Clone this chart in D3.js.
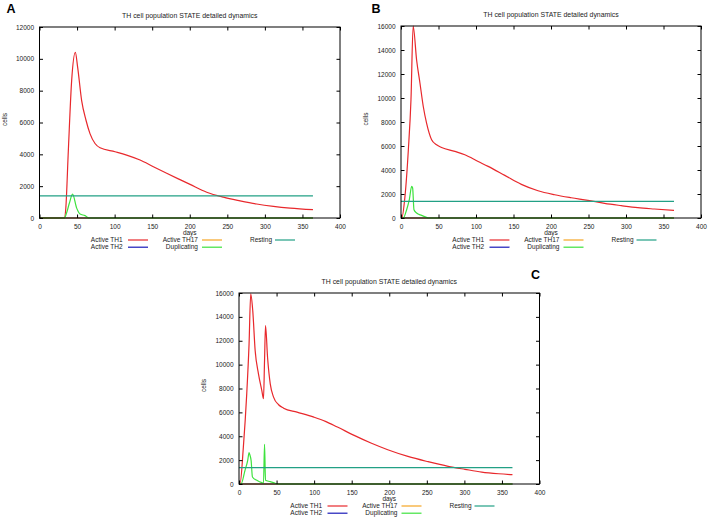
<!DOCTYPE html>
<html><head><meta charset="utf-8">
<script src="https://cdn.jsdelivr.net/npm/d3@7"></script>
<style>body{margin:0;background:#fff}svg{display:block}text{font-family:"Liberation Sans",Arial,sans-serif}</style>
</head><body>
<svg id="c" width="710" height="518"></svg>
<script>
// ---- data: [day, cells] ----
const xTicks = [0, 50, 100, 150, 200, 250, 300, 350, 400];
const yTicksA = [0, 2000, 4000, 6000, 8000, 10000, 12000];
const yTicksBC = [0, 2000, 4000, 6000, 8000, 10000, 12000, 14000, 16000];
const legendNames = ["Active TH1", "Active TH2", "Active TH17", "Duplicating", "Resting"];

const th1A = [[0,0],[33,0],[35,600],[38.4,4260],[42.8,8630],[47.7,10400],[50.8,9460],[56.1,7380],[61.9,6140],[67.2,5300],[73.9,4680],[80.6,4410],[100.6,4160],[116,3950],[133.8,3640],[151.6,3220],[169.3,2810],[187,2410],[200.4,2110],[222.6,1620],[244.8,1310],[267,1080],[289,880],[311.4,730],[333.6,620],[364,520]];
const dupA = [[0,0],[33,0],[36,310],[39.8,940],[44,1500],[49.5,620],[54,250],[60.6,150],[66,0],[364,0]];
const restA = [[0,1390],[364,1390]];
const zeroA = [[0,0],[364,0]];

const th1B = [[0,0],[1,0],[5.3,1800],[9.8,5690],[13.3,9850],[16.2,16000],[20.8,13170],[25.3,11230],[29.7,9290],[34.1,7900],[40.8,6520],[47.4,6100],[54.1,5880],[71.8,5550],[85.1,5270],[102.9,4710],[116.2,4300],[138.4,3550],[160.5,2800],[182.7,2270],[204.9,1940],[227,1690],[249.2,1470],[271.4,1220],[293.6,1030],[315.7,860],[337.9,750],[364,640]];
const dupB = [[0,0],[3,0],[7.5,690],[11.1,1530],[14.2,2630],[15.5,2500],[17.3,690],[20.8,420],[27.5,220],[34,55],[36.4,0],[364,0]];
const restB = [[0,1390],[364,1390]];
const zeroB = [[0,0],[364,0]];

const th1C = [[0,0],[1.3,0],[5.8,3090],[10.3,7550],[13.4,11740],[15.6,15920],[18.3,14520],[21.5,11180],[25.9,9230],[30.4,7830],[32.6,7140],[34,10340],[35.3,13270],[38,10620],[41.6,8390],[46,7280],[52.7,6640],[59.4,6350],[77.3,6020],[99.7,5600],[115,5250],[131,4770],[153.3,4070],[175.6,3430],[198,2870],[224.8,2310],[251.6,1870],[278.4,1480],[300.8,1230],[323.1,1000],[345.5,860],[364,780]];
const dupC = [[0,0],[2.7,0],[8,1140],[11.6,1980],[13.4,2620],[14.7,2400],[16.1,1980],[17.9,590],[23.7,310],[30.4,110],[32.6,80],[34,3320],[35.3,310],[41.6,200],[48.3,60],[50.5,0],[364,0]];
const restC = [[0,1370],[364,1370]];
const zeroC = [[0,0],[364,0]];

const colors = {th1:"#e8282c", th2:"#1a1ab8", th17:"#f5a623", dup:"#3ee23e", rest:"#22a085"};

const svg = d3.select("#c");

function panel(opt){
  const {L,R,T,B,yMax,yTicks,th1,dup,rest,zero,letter,letterX,letterY} = opt;
  const x = d3.scaleLinear().domain([0,400]).range([L,R]);
  const y = d3.scaleLinear().domain([0,yMax]).range([B,T]);
  const g = svg.append("g");
  const line = d3.line().x(d=>x(d[0])).y(d=>y(d[1])).curve(d3.curveMonotoneX);
  const series = [[zero,colors.th2],[zero,colors.th17],[th1,colors.th1],[dup,colors.dup],[rest,colors.rest]];
  series.forEach(([data,c])=>{
    g.append("path").attr("d",line(data)).attr("fill","none").attr("stroke",c).attr("stroke-width",1.2).attr("stroke-linejoin","round");
  });
  // axes with inward ticks (mirrored)
  const tl = 3.5;
  g.append("g").attr("transform",`translate(0,${B})`).call(d3.axisBottom(x).tickValues(xTicks).tickSizeInner(-tl).tickSizeOuter(0).tickPadding(tl+3))
    .call(a=>{a.select(".domain").remove();a.selectAll("text").attr("font-size",6.5).attr("font-family","Liberation Sans").attr("fill","#222");});
  g.append("g").attr("transform",`translate(0,${T})`).call(d3.axisTop(x).tickValues(xTicks).tickSizeInner(-tl).tickSizeOuter(0).tickFormat(""))
    .call(a=>a.select(".domain").remove());
  g.append("g").attr("transform",`translate(${L},0)`).call(d3.axisLeft(y).tickValues(yTicks).tickSizeInner(-tl).tickSizeOuter(0).tickPadding(tl+2).tickFormat(d3.format("d")))
    .call(a=>{a.select(".domain").remove();a.selectAll("text").attr("font-size",6.5).attr("font-family","Liberation Sans").attr("fill","#222");});
  g.append("g").attr("transform",`translate(${R},0)`).call(d3.axisRight(y).tickValues(yTicks).tickSizeInner(-tl).tickSizeOuter(0).tickFormat(""))
    .call(a=>a.select(".domain").remove());
  g.append("rect").attr("x",L).attr("y",T).attr("width",R-L).attr("height",B-T).attr("fill","none").attr("stroke","#000").attr("stroke-width",1);
  // title & labels
  g.append("text").attr("x",(L+R)/2).attr("y",T-9).attr("text-anchor","middle").attr("font-size",6.9).attr("fill","#222").text("TH cell population STATE detailed dynamics");
  g.append("text").attr("x",(L+R)/2).attr("y",B+17).attr("text-anchor","middle").attr("font-size",6.5).attr("fill","#222").text("days");
  g.append("text").attr("transform",`translate(${L-33},${(T+B)/2-3}) rotate(-90)`).attr("text-anchor","middle").attr("font-size",6.5).attr("fill","#222").text("cells");
  // legend
  const items = [
    {n:legendNames[0],c:colors.th1,col:0,row:0},
    {n:legendNames[1],c:colors.th2,col:0,row:1},
    {n:legendNames[2],c:colors.th17,col:1,row:0},
    {n:legendNames[3],c:colors.dup,col:1,row:1},
    {n:legendNames[4],c:colors.rest,col:2,row:0}];
  const textEnd=[83,158.5,232.5], lineStart=[88.5,162.5,235.5];
  items.forEach(it=>{
    const yy = B+22+it.row*7.2;
    g.append("text").attr("x",L+textEnd[it.col]).attr("y",yy).attr("dy","0.35em").attr("text-anchor","end").attr("font-size",6.5).attr("fill","#222").text(it.n);
    g.append("line").attr("x1",L+lineStart[it.col]).attr("x2",L+lineStart[it.col]+20).attr("y1",yy).attr("y2",yy).attr("stroke",it.c).attr("stroke-width",1.2);
  });
  svg.append("text").attr("x",letterX).attr("y",letterY).attr("font-size",12.5).attr("font-weight","bold").attr("font-family","Liberation Sans").attr("fill","#000").text(letter);
}

panel({L:39.5,R:340,T:27,B:218,yMax:12000,yTicks:yTicksA,th1:th1A,dup:dupA,rest:restA,zero:zeroA,letter:"A",letterX:6.5,letterY:12.5});
panel({L:401,R:701,T:26,B:218,yMax:16000,yTicks:yTicksBC,th1:th1B,dup:dupB,rest:restB,zero:zeroB,letter:"B",letterX:371.5,letterY:12.5});
panel({L:239,R:539.5,T:293,B:484,yMax:16000,yTicks:yTicksBC,th1:th1C,dup:dupC,rest:restC,zero:zeroC,letter:"C",letterX:531,letterY:278.5});
</script>
</body></html>
